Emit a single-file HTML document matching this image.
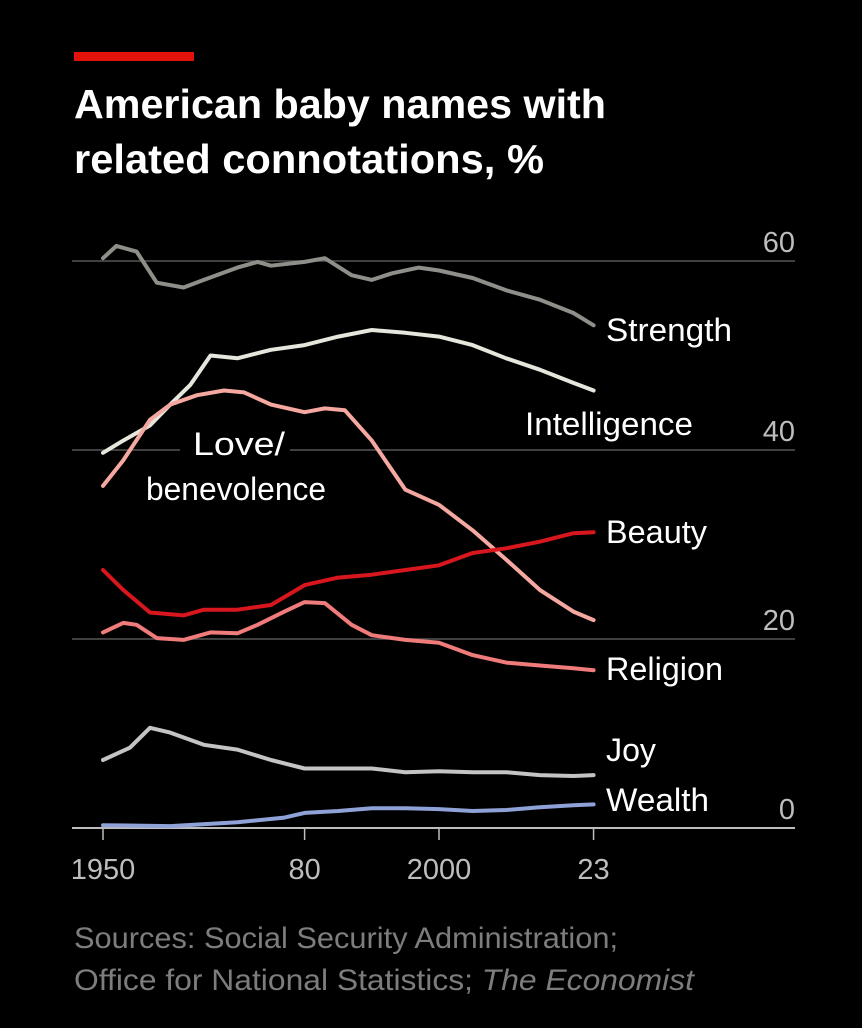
<!DOCTYPE html>
<html><head><meta charset="utf-8"><style>
body{margin:0;background:#000;}
svg{display:block;font-family:"Liberation Sans",sans-serif;}
</style></head><body>
<svg id="chart" width="862" height="1028" viewBox="0 0 862 1028">
<rect x="0" y="0" width="862" height="1028" fill="#000"/>
<rect x="74" y="52" width="120" height="9" fill="#e3120b"/>
<text x="74" y="118" fill="#fff" font-size="41" font-weight="bold" textLength="532" lengthAdjust="spacingAndGlyphs">American baby names with</text>
<text x="74" y="173" fill="#fff" font-size="41" font-weight="bold" textLength="470" lengthAdjust="spacingAndGlyphs">related connotations, %</text>
<g id="grid"></g>
<g id="lines"></g>
<g id="labels"></g>
<text x="74" y="948" fill="#7d7d7d" font-size="30" textLength="544" lengthAdjust="spacingAndGlyphs">Sources: Social Security Administration;</text>
<text x="74" y="990" fill="#7d7d7d" font-size="30" textLength="620" lengthAdjust="spacingAndGlyphs">Office for National Statistics; <tspan font-style="italic">The Economist</tspan></text>
</svg>
<script>
const yTicks=[0,20,40,60];
const xTicks=[1950,1980,2000,2023];
const xTickLabels=["1950","80","2000","23"];
const strengthYears=[1950,1952,1955,1958,1962,1965,1970,1973,1975,1980,1983,1987,1990,1993,1997,2000,2005,2010,2015,2020,2023];
const strengthVals=[60.3,61.6,61,57.7,57.2,58,59.3,59.9,59.5,59.9,60.3,58.5,58,58.7,59.3,59,58.2,56.9,55.9,54.5,53.2];
const intelYears=[1950,1953,1957,1960,1963,1966,1970,1975,1980,1985,1990,1995,2000,2005,2010,2015,2020,2023];
const intelVals=[39.7,41,42.6,44.8,46.9,50,49.7,50.6,51.1,52,52.7,52.4,52,51.1,49.7,48.5,47.1,46.3];
const loveYears=[1950,1953,1957,1960,1964,1968,1971,1975,1980,1983,1986,1990,1995,2000,2005,2010,2015,2020,2023];
const loveVals=[36.2,38.9,43.2,44.8,45.8,46.3,46.1,44.8,44,44.4,44.2,41,35.8,34.2,31.5,28.4,25.2,22.9,22];
const beautyYears=[1950,1953,1957,1962,1965,1970,1975,1980,1985,1990,1995,2000,2005,2010,2015,2020,2023];
const beautyVals=[27.3,25.2,22.8,22.5,23.1,23.1,23.6,25.7,26.5,26.8,27.3,27.8,29.1,29.6,30.3,31.2,31.3];
const religionYears=[1950,1953,1955,1958,1962,1966,1970,1973,1977,1980,1983,1987,1990,1995,2000,2005,2010,2015,2020,2023];
const religionVals=[20.7,21.7,21.5,20.1,19.9,20.7,20.6,21.5,22.9,23.9,23.8,21.5,20.4,19.9,19.6,18.3,17.5,17.2,16.9,16.7];
const joyYears=[1950,1954,1957,1960,1965,1970,1975,1980,1985,1990,1995,2000,2005,2010,2015,2020,2023];
const joyVals=[7.2,8.5,10.6,10.1,8.8,8.3,7.2,6.3,6.3,6.3,5.9,6,5.9,5.9,5.6,5.5,5.6];
const wealthYears=[1950,1960,1970,1977,1980,1985,1990,1995,2000,2005,2010,2015,2020,2023];
const wealthVals=[0.3,0.2,0.6,1.1,1.6,1.8,2.1,2.1,2,1.8,1.9,2.2,2.4,2.5];

const NS="http://www.w3.org/2000/svg";
const xs=y=>103+(y-1950)*6.72;
const ys=v=>828-v*9.45;
function mk(tag,attrs,parent,text){const e=document.createElementNS(NS,tag);for(const k in attrs)e.setAttribute(k,attrs[k]);if(text!==undefined)e.textContent=text;parent.appendChild(e);return e;}
const grid=document.getElementById('grid'),lines=document.getElementById('lines'),labels=document.getElementById('labels');
yTicks.forEach(t=>{
  const l=mk('line',{x1:72,x2:795,y1:ys(t),y2:ys(t),stroke:t===0?'#bdbdbd':'#555','stroke-width':t===0?2:1.5},grid);
  
  
  const tx=mk('text',{x:795,y:ys(t)-9,fill:'#bdbdbd','font-size':29,'text-anchor':'end'},grid,String(t));
  
  
});
xTicks.forEach((t,i)=>{
  const l=mk('line',{x1:xs(t),x2:xs(t),y1:828,y2:840,stroke:'#bdbdbd','stroke-width':1.5},grid);
  
  
  const tx=mk('text',{x:xs(t),y:879,fill:'#bdbdbd','font-size':29,'text-anchor':'middle'},grid,xTickLabels[i]);
  
  
});
const gap=mk('rect',{x:180,y:ys(40)-3,width:110,height:6,fill:'#000'},grid);


const series=[
 ['strength',strengthYears,strengthVals,'#8f8f8a'],
 ['intelligence',intelYears,intelVals,'#e6e6dc'],
 ['love',loveYears,loveVals,'#f4a8a0'],
 ['beauty',beautyYears,beautyVals,'#d8161e'],
 ['religion',religionYears,religionVals,'#f07b7b'],
 ['joy',joyYears,joyVals,'#c4c4c4'],
 ['wealth',wealthYears,wealthVals,'#8ea2d8']
];
series.forEach(s=>{
  const d=s[1].map((y,i)=>(i?'L':'M')+xs(y).toFixed(1)+','+ys(s[2][i]).toFixed(1)).join('');
  const p=mk('path',{d:d,fill:'none',stroke:s[3],'stroke-width':4,'stroke-linejoin':'round','stroke-linecap':'round'},lines);
  
  
});
const lab=[['Strength',606,341,126],['Intelligence',525,435,168],['Beauty',606,543,101],['Religion',606,680,117],['Joy',606,761,50],['Wealth',606,811,103],['Love/',193,455,92],['benevolence',146,500,180]];
lab.forEach(l=>{
  const t=mk('text',{x:l[1],y:l[2],fill:'#fff','font-size':32,textLength:l[3],lengthAdjust:'spacingAndGlyphs'},labels,l[0]);
  
  
});
</script>
</body></html>
